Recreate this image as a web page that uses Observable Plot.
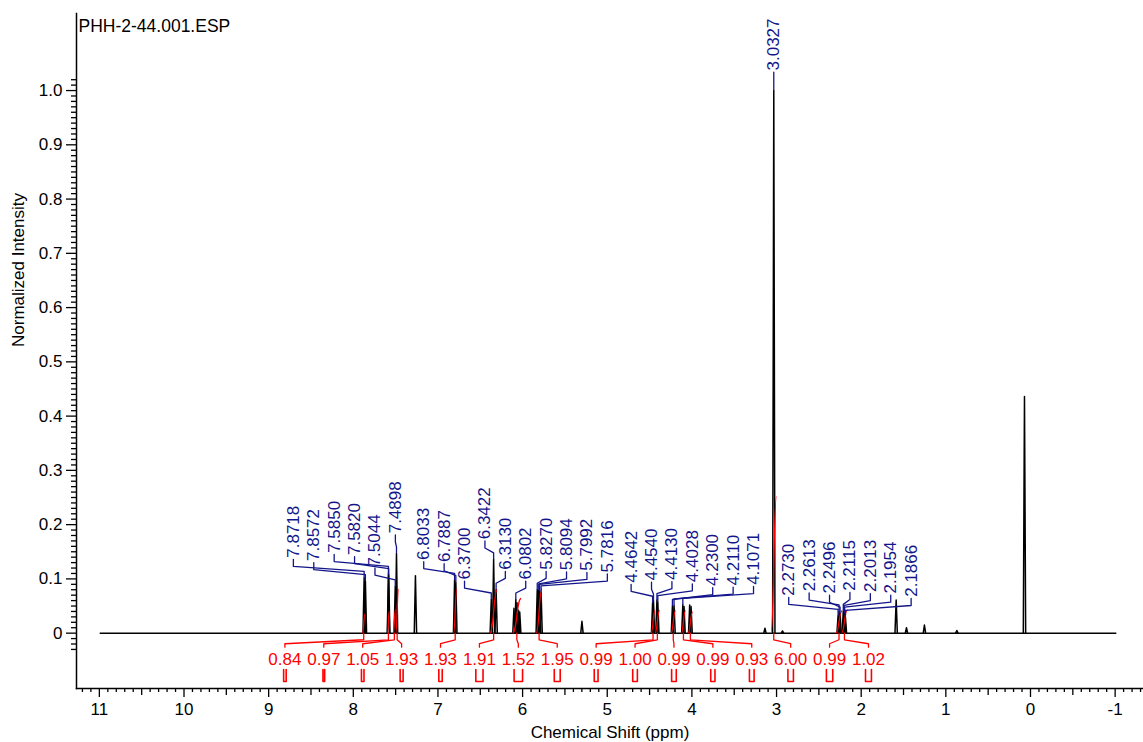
<!DOCTYPE html>
<html>
<head>
<meta charset="utf-8">
<script src="https://cdn.jsdelivr.net/npm/d3@7"></script>
<script src="https://cdn.jsdelivr.net/npm/@observablehq/plot@0.6"></script>
<style>
  html, body { margin: 0; padding: 0; background: #fff; }
  #chart svg { display: block; }
</style>
</head>
<body>
<div id="chart"></div>
<script>
// ---- spectrum data (1H NMR, normalized intensity) ----
const sampleName = "PHH-2-44.001.ESP";
const xTitle = "Chemical Shift (ppm)";
const yTitle = "Normalized Intensity";

// acquired window of the trace (ppm)
const spectrumStart = 10.99;
const spectrumEnd = -1.02;

// picked lines: shift (ppm) and normalized height
const pickedShifts = [
  7.8718, 7.8572, 7.5850, 7.5820, 7.5044, 7.4898,
  6.8033, 6.7887, 6.3700, 6.3422, 6.3130, 6.0802,
  5.8270, 5.8094, 5.7992, 5.7816,
  4.4642, 4.4540, 4.4130, 4.4028, 4.2300, 4.2110, 4.1071,
  3.0327,
  2.2730, 2.2613, 2.2496, 2.2115, 2.2013, 2.1954, 2.1866
];
const pickedHeights = [
  0.102, 0.096, 0.111, 0.107, 0.086, 0.147,
  0.098, 0.094, 0.062, 0.136, 0.080, 0.062,
  0.080, 0.079, 0.078, 0.075,
  0.056, 0.060, 0.061, 0.057, 0.050, 0.051, 0.052,
  1.000,
  0.032, 0.040, 0.036, 0.041, 0.039, 0.036, 0.030
];

// lines that carry no shift label (solvent, water, TMS, multiplet partners)
const otherShifts = [7.2660, 6.1020, 6.0660, 6.0480, 6.0340, 5.2990, 4.0930, 4.0260, 4.0100,
  3.1370, 2.9300, 1.5870, 1.4650, 1.2530, 0.8700, 0.0710];
const otherHeights = [0.106, 0.046, 0.056, 0.042, 0.039, 0.022, 0.049, 0.052, 0.049,
  0.009, 0.004, 0.061, 0.010, 0.015, 0.005, 0.436];

// integral regions: centre (ppm), width (ppm) and integral value
const integralCenters = [7.877, 7.585, 7.515, 7.482, 6.796, 6.342, 6.068, 5.805,
  4.459, 4.408, 4.220, 4.100, 4.018, 3.033, 2.262, 2.198];
const integralWidths = [0.030, 0.020, 0.030, 0.035, 0.040, 0.085, 0.100, 0.070,
  0.045, 0.055, 0.055, 0.050, 0.055, 0.065, 0.075, 0.070];
const integralValues = [0.84, 0.97, 1.05, 1.93, 1.93, 1.91, 1.52, 1.95,
  0.99, 1.00, 0.99, 0.99, 0.93, 6.00, 0.99, 1.02];

// axis ticks
const xTicks = [11, 10, 9, 8, 7, 6, 5, 4, 3, 2, 1, 0, -1];
const xTickLabels = ["11", "10", "9", "8", "7", "6", "5", "4", "3", "2", "1", "0", "-1"];
const yTicks = [0, 0.1, 0.2, 0.3, 0.4, 0.5, 0.6, 0.7, 0.8, 0.9, 1.0];
const yTickLabels = ["0", "0.1", "0.2", "0.3", "0.4", "0.5", "0.6", "0.7", "0.8", "0.9", "1.0"];

// ---- styling / layout ----
const BLUE = "#13168a";
const RED = "#ff0000";
const FONT = "'Liberation Sans', Arial, Helvetica, sans-serif";
const integralScale = 0.042;          // curve height per integral unit
const fanStarts = [8.708, 7.168, 4.718, null, 2.856]; // first label slot of each peak-label fan (ppm)
const fanStep = 0.241;                // spacing of shift labels (ppm)
const intLabelStart = 8.808;          // first integral label slot (ppm)
const intLabelStep = 0.4596;          // spacing of integral labels (ppm)

// ---- derived tables ----
const peaks = [
  ...pickedShifts.map((x, i) => ({x, h: pickedHeights[i]})),
  ...otherShifts.map((x, i) => ({x, h: otherHeights[i]}))
];
const halfBase = 0.014;
const peakPath = peaks.flatMap((p, i) => [
  {x: p.x + halfBase, y: 0, z: i},
  {x: p.x, y: p.h, z: i},
  {x: p.x - halfBase, y: 0, z: i}
]);

// group picked lines into fans (gap > 0.5 ppm starts a new fan)
const labels = [];
{
  let fan = 0, slot = 0;
  pickedShifts.forEach((s, i) => {
    if (i > 0 && pickedShifts[i - 1] - s > 0.5) { fan++; slot = 0; }
    const start = fanStarts[fan];
    const lx = start == null ? s : start - slot * fanStep;
    const h = pickedHeights[i];
    labels.push({shift: s, h, lx, yText: h + 0.037, text: s.toFixed(4)});
    slot++;
  });
}
const leaderPath = labels.flatMap((d, i) => [
  {x: d.lx, y: d.yText - 0.003, z: i},
  {x: d.lx, y: d.yText - 0.016, z: i},
  {x: d.shift, y: d.h + 0.012, z: i},
  {x: d.shift, y: d.h + 0.001, z: i}
]);

const integrals = integralCenters.map((c, i) => ({
  c, w: integralWidths[i], v: integralValues[i],
  lx: intLabelStart - i * intLabelStep
}));
const intLeader = integrals.flatMap((d, i) => [
  {x: d.c, y: 0, z: i},
  {x: d.c, y: -0.0122, z: i},
  {x: d.lx, y: -0.0195, z: i},
  {x: d.lx, y: -0.0258, z: i}
]);
const intMarker = integrals.flatMap((d, i) => [
  {x: d.lx + d.w / 2, y: -0.067, z: i},
  {x: d.lx + d.w / 2, y: -0.089, z: i},
  {x: d.lx - d.w / 2, y: -0.089, z: i},
  {x: d.lx - d.w / 2, y: -0.067, z: i}
]);

const xMinor = d3.range(-13, 113).filter(t => t % 10 !== 0 && t % 5 !== 0).map(t => t / 10);
const xHalf = d3.range(-13, 113).filter(t => t % 10 !== 0 && t % 5 === 0).map(t => t / 10);
const yMinor = d3.range(-3, 103).filter(t => t % 10 !== 0).map(t => t / 100);

const chart = Plot.plot({
  width: 1143,
  height: 742,
  marginLeft: 76,
  marginRight: 0,
  marginTop: 13,
  marginBottom: 54,
  x: {domain: [11.27, -1.335]},
  y: {domain: [-0.102, 1.142]},
  style: {fontFamily: FONT, fontSize: "17px", color: "#000", background: "#fff", overflow: "visible"},
  marks: [
    // axes
    Plot.axisX({ticks: xMinor, tickSize: 4, tickFormat: () => "", strokeWidth: 1.3}),
    Plot.axisX({ticks: xHalf, tickSize: 7, tickFormat: () => "", strokeWidth: 1.3}),
    Plot.axisX({ticks: xTicks, tickSize: 9, tickPadding: 5, strokeWidth: 1.3, fontSize: 17,
      tickFormat: d => xTickLabels[xTicks.indexOf(d)]}),
    Plot.axisY({ticks: yMinor, tickSize: 5, tickFormat: () => "", strokeWidth: 1.3}),
    Plot.axisY({ticks: yTicks, tickSize: 10, tickPadding: 4, strokeWidth: 1.3, fontSize: 17,
      tickFormat: d => yTickLabels[yTicks.indexOf(d)]}),
    Plot.frame({anchor: "left", strokeWidth: 1.5}),
    Plot.frame({anchor: "bottom", strokeWidth: 1.5}),
    Plot.text([xTitle], {frameAnchor: "bottom", dy: 44, lineAnchor: "middle", fontSize: 17}),
    Plot.text([yTitle], {frameAnchor: "left", dx: -58, dy: -4, rotate: -90, lineAnchor: "middle", fontSize: 17}),
    Plot.text([sampleName], {frameAnchor: "top-left", dx: 2, dy: 6, textAnchor: "start", lineAnchor: "top", fontSize: 17.5}),

    // spectrum trace
    Plot.ruleY([{y: 0, x1: spectrumStart, x2: spectrumEnd}], {y: "y", x1: "x1", x2: "x2", stroke: "#000", strokeWidth: 1.5}),
    Plot.line(peakPath, {x: "x", y: "y", z: "z", stroke: "#000", strokeWidth: 1.5, strokeLinejoin: "round"}),

    // integrals
    Plot.link(integrals, {
      x1: d => d.c + d.w / 2, y1: () => 0,
      x2: d => d.c - d.w / 2, y2: d => d.v * integralScale,
      curve: "bump-x", stroke: RED, strokeWidth: 1.3
    }),
    Plot.line(intLeader, {x: "x", y: "y", z: "z", stroke: RED, strokeWidth: 1.3}),
    Plot.line(intMarker, {x: "x", y: "y", z: "z", stroke: RED, strokeWidth: 1.6}),
    Plot.text(integrals, {x: "lx", y: () => -0.048, text: d => d.v.toFixed(2), fill: RED,
      fontSize: 17, lineAnchor: "middle"}),

    // shift labels
    Plot.line(leaderPath, {x: "x", y: "y", z: "z", stroke: BLUE, strokeWidth: 1.3}),
    Plot.text(labels, {x: "lx", y: "yText", text: "text", rotate: -90, textAnchor: "start",
      lineAnchor: "middle", fill: BLUE, fontSize: 17})
  ]
});
document.getElementById("chart").appendChild(chart);
</script>
</body>
</html>
